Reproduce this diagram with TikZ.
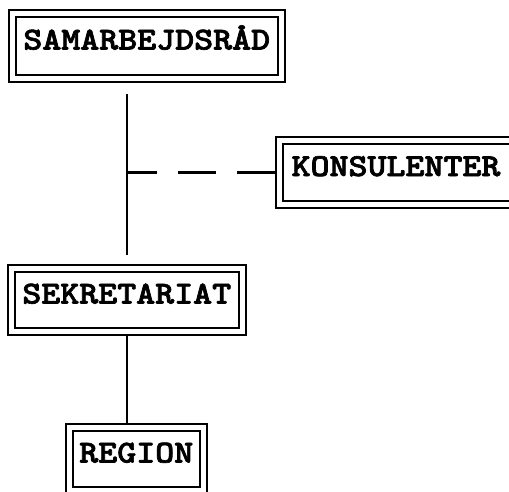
\documentclass[tikz,border=0pt]{standalone}
\usepackage{fontspec}
\usepackage{graphicx}
\usepackage{tikz}
\usetikzlibrary{positioning}

\newfontfamily\boxfont{lmmonolt10-bold.otf}[FakeBold=2]
\newcommand{\boxtext}[1]{\scalebox{1.13}[1]{#1}}

\begin{document}
\begin{tikzpicture}[x=1pt,y=-1pt]
        \useasboundingbox (0,0) rectangle (509,491);
        \clip (0,0) rectangle (509,491);
        \begin{scope}[every node/.style={draw,double,line width=2pt,double distance=5pt,rectangle,inner sep=0pt,outer sep=4.5pt,minimum height=63pt,text height=19pt,text depth=12pt,font=\boxfont\fontsize{32}{32}\selectfont}]
          \node[minimum width=269.5pt,minimum height=65pt] (rad) at (146.75,46) {\boxtext{SAMARBEJDSRÅD}};
          \node[minimum width=234pt,minimum height=63.5pt] (kons) at (396,172.5) {\boxtext{KONSULENTER}};
          \node[minimum width=231.5pt] (sek) at (126.75,300) {\boxtext{SEKRETARIAT}};
          \node[minimum width=134.5pt] (reg) at (136.25,459) {\boxtext{REGION}};
        \end{scope}
        \begin{scope}[every edge/.style={draw=black,line width=2.2pt}]
          \path (rad.south -| sek.north) edge[shorten <=11pt,shorten >=9pt] (sek.north);
          \path (kons.west) edge[dash pattern=on 38pt off 21pt] (kons.west -| sek.north);
          \path (sek.south) edge (sek.south |- reg.north);
        \end{scope}
      \end{tikzpicture}
\end{document}
